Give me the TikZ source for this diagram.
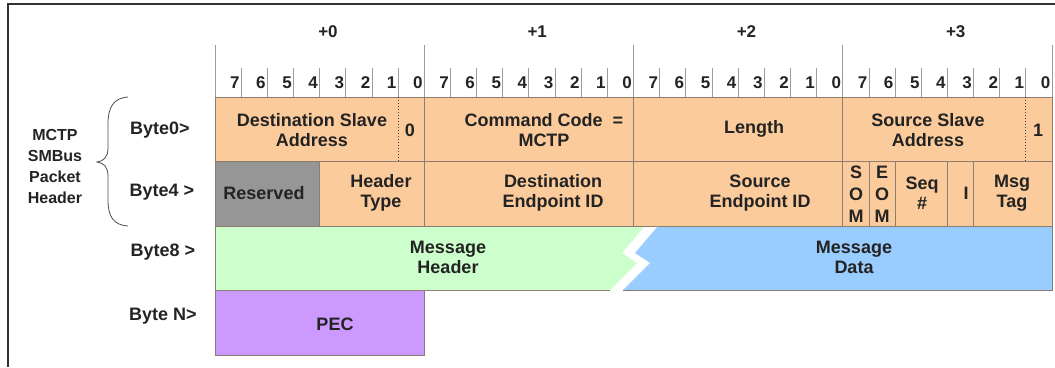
\documentclass[tikz,border=0pt]{standalone}
\usepackage{fontspec}
\setmainfont{Liberation Sans}
\usepackage{xcolor}
\usetikzlibrary{positioning, calc}

\definecolor{hdrfill}{RGB}{251,203,155}
\definecolor{rsvfill}{RGB}{150,150,150}
\definecolor{mhdrfill}{RGB}{204,255,204}
\definecolor{mdatafill}{RGB}{153,204,255}
\definecolor{pecfill}{RGB}{204,153,255}
\definecolor{cellline}{RGB}{140,125,110}
\definecolor{tickline}{RGB}{155,155,155}
\definecolor{labeltext}{RGB}{35,35,35}

\begin{document}
\begin{tikzpicture}[
    x=1pt, y=-1pt,
    frame/.style={line width=1.5pt,black!80},
    tick/.style={line width=0.8pt,tickline},
    cell/.style={line width=0.8pt,cellline},
    bitsep/.style={line width=1pt,black!75,dotted},
    brace/.style={line width=0.8pt,black!70},
    field/.style={font=\fontsize{18}{20}\selectfont\bfseries,text=labeltext,align=center,inner sep=0pt},
    stack/.style={font=\fontsize{18}{22}\selectfont\bfseries,text=labeltext,align=center,inner sep=0pt},
    bitnum/.style={font=\fontsize{17}{17}\selectfont\bfseries,text=labeltext,anchor=east,inner sep=0pt},
    bytenum/.style={font=\fontsize{17}{17}\selectfont\bfseries,text=labeltext,inner sep=0pt},
    rowlabel/.style={font=\fontsize{18}{18}\selectfont\bfseries,text=labeltext,inner sep=0pt},
    sidelabel/.style={font=\fontsize{16}{21}\selectfont\bfseries,text=labeltext,align=center,inner sep=0pt}
]
\useasboundingbox (0,0) rectangle (1055,367);

%--------------------------------------------------------------------
% Frame
%--------------------------------------------------------------------
\draw[frame] (8,367) -- (8,4) -- (1055,4);

%--------------------------------------------------------------------
% Bit ruler: byte offsets and bit numbers
%--------------------------------------------------------------------
\foreach \b in {0,...,3} {
  \pgfmathsetmacro{\bx}{215+209.25*\b}
  \node[bytenum] (off\b) at (\bx+113,32) {+\b};
  \draw[tick] (\bx,45) -- (\bx,97);
  \foreach \k in {1,...,7}
    \draw[tick] (\bx+26.16*\k,68) -- (\bx+26.16*\k,97);
  \foreach \k in {0,...,7}
    \node[bitnum] (bit\b-\k) at (\bx+26.16*8-26.16*\k-1.5,83) {\k};
}
\draw[tick] (1052,45) -- (1052,97);

%--------------------------------------------------------------------
% Header rows: Byte0 and Byte4
%--------------------------------------------------------------------
\fill[hdrfill] (215,97) rectangle (1052,226);
\fill[rsvfill] (215,161) rectangle (319.6,226);
\draw[cell] (215,97) rectangle (1052,226);
\draw[cell] (215,161) -- (1052,161);
\foreach \x in {424.25,633.5,842.75}
  \draw[cell] (\x,97) -- (\x,226);
\foreach \x in {319.6,868.9,895.1,947.4,973.6}
  \draw[cell] (\x,161) -- (\x,226);
\draw[bitsep] (398.1,97) -- (398.1,161);
\draw[bitsep] (1025.9,97) -- (1025.9,161);

\node[field] (dsa)  at (312,130) {Destination Slave\\Address};
\node[field] (adr0) at (410,130) {0};
\node[field] (cmd)  at (544,130) {Command Code\ \ =\\MCTP};
\node[field] (len)  at (754,129) {Length};
\node[field] (ssa)  at (928,130) {Source Slave\\Address};
\node[field] (adr1) at (1038,130) {1};

\node[field] (rsv)   at (264,193) {Reserved};
\node[field] (htype) at (381,193) {Header\\Type};
\node[field] (deid)  at (553,193) {Destination\\Endpoint ID};
\node[field] (seid)  at (760,193) {Source\\Endpoint ID};
\node[stack] (som)   at (856,194) {S\\O\\M};
\node[stack] (eom)   at (882,194) {E\\O\\M};
\node[field] (seq)   at (922,193) {Seq\\\#};
\node[field] (tagown) at (966,193) {I};
\node[field] (tag)   at (1012,193) {Msg\\Tag};

%--------------------------------------------------------------------
% Byte8: message header / message data
%--------------------------------------------------------------------
\fill[mhdrfill] (215,226) -- (645,226) -- (622,253) -- (637,263)
  -- (610,290) -- (215,290) -- cycle;
\fill[mdatafill] (658,226) -- (1052,226) -- (1052,290) -- (623,290)
  -- (650,263) -- (635,253) -- cycle;
\draw[cell] (658,226) -- (1052,226) -- (1052,290) -- (623,290);
\draw[cell] (645,226) -- (215,226) -- (215,290) -- (610,290);

\node[field] (mhdr)  at (448,257) {Message\\Header};
\node[field] (mdata) at (854,257) {Message\\Data};

%--------------------------------------------------------------------
% Byte N: PEC
%--------------------------------------------------------------------
\fill[pecfill] (215,290) rectangle (424.25,355);
\draw[cell] (215,290) rectangle (424.25,355);
\node[field] (pec) at (335,324) {PEC};

%--------------------------------------------------------------------
% Row labels and brace
%--------------------------------------------------------------------
\node[sidelabel] (pkt) at (55,166) {MCTP\\SMBus\\Packet\\Header};
\node[rowlabel] (row0) at (160,130) {Byte0>};
\node[rowlabel] (row4) at (162,192) {Byte4 >};
\node[rowlabel] (row8) at (163,252) {Byte8 >};
\node[rowlabel] (rowN) at (163,316) {Byte N>};

\draw[brace] (128,97) .. controls (113,98) and (108,108) .. (108,124)
  -- (108,148) .. controls (108,157) and (104,161) .. (97,162)
  .. controls (104,163) and (108,167) .. (108,176)
  -- (108,200) .. controls (108,216) and (113,225) .. (128,226);

\end{tikzpicture}
\end{document}
